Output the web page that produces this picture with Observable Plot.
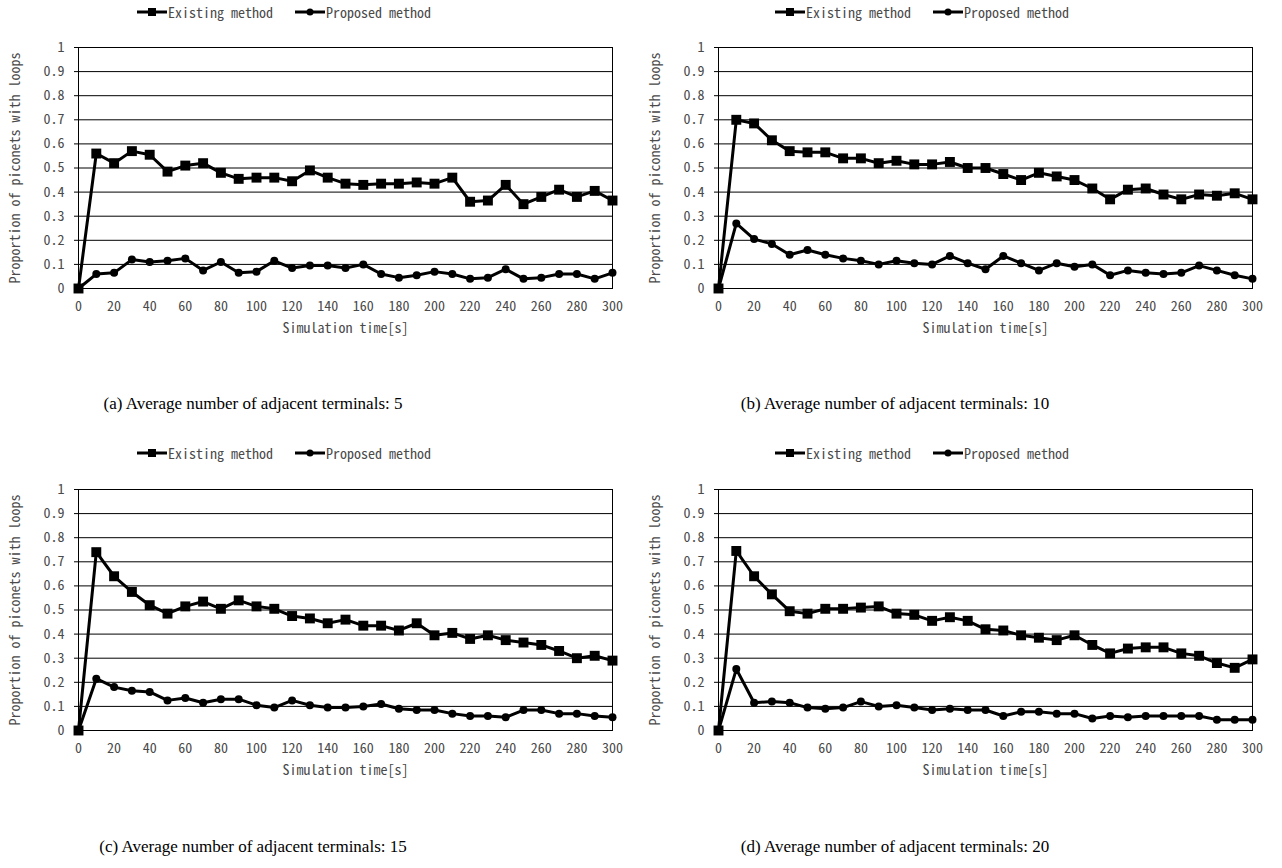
<!DOCTYPE html>
<html>
<head>
<meta charset="utf-8">
<script src="https://cdn.jsdelivr.net/npm/d3@7"></script>
<script src="https://cdn.jsdelivr.net/npm/@observablehq/plot@0.6"></script>
<style>
  body { margin: 0; background: #fff; }
  #root { position: relative; width: 1282px; height: 868px; overflow: hidden; background: #fff; }
  .panel { position: absolute; }
  .legend { position: absolute; display: flex; align-items: center; transform: translate(-50%, -50%);
            font: 14px "Noto Sans Mono CJK JP", "Noto Sans CJK JP", "Noto Sans", sans-serif; color: #4a4a4a; white-space: nowrap; }
  .legend .item { display: flex; align-items: center; margin: 0 11px; }
  .legend svg { display: block; margin-right: 1px; }
  .caption { position: absolute; transform: translate(-50%, -50%); white-space: nowrap;
             font: 17px "Liberation Serif", serif; color: #000; }
</style>
</head>
<body>
<div id="root"></div>
<script>
// ---- data ----
const times = [0, 10, 20, 30, 40, 50, 60, 70, 80, 90, 100, 110, 120, 130, 140, 150, 160, 170, 180, 190, 200, 210, 220, 230, 240, 250, 260, 270, 280, 290, 300];

const existingA = [0, 0.56, 0.52, 0.57, 0.555, 0.485, 0.51, 0.52, 0.48, 0.455, 0.46, 0.46, 0.445, 0.49, 0.46, 0.435, 0.43, 0.435, 0.435, 0.44, 0.435, 0.46, 0.36, 0.365, 0.43, 0.35, 0.38, 0.41, 0.38, 0.405, 0.365];
const proposedA = [0, 0.06, 0.065, 0.12, 0.11, 0.115, 0.125, 0.075, 0.11, 0.065, 0.07, 0.115, 0.085, 0.095, 0.095, 0.085, 0.1, 0.06, 0.045, 0.055, 0.07, 0.06, 0.04, 0.045, 0.08, 0.04, 0.045, 0.06, 0.06, 0.04, 0.065];

const existingB = [0, 0.70, 0.685, 0.615, 0.57, 0.565, 0.565, 0.54, 0.54, 0.52, 0.53, 0.515, 0.515, 0.525, 0.5, 0.5, 0.475, 0.45, 0.48, 0.465, 0.45, 0.415, 0.37, 0.41, 0.415, 0.39, 0.37, 0.39, 0.385, 0.395, 0.37];
const proposedB = [0, 0.27, 0.205, 0.185, 0.14, 0.16, 0.14, 0.125, 0.115, 0.1, 0.115, 0.105, 0.1, 0.135, 0.105, 0.08, 0.135, 0.105, 0.075, 0.105, 0.09, 0.1, 0.055, 0.075, 0.065, 0.06, 0.065, 0.095, 0.075, 0.055, 0.04];

const existingC = [0, 0.74, 0.64, 0.575, 0.52, 0.485, 0.515, 0.535, 0.505, 0.54, 0.515, 0.505, 0.475, 0.465, 0.445, 0.46, 0.435, 0.435, 0.415, 0.445, 0.395, 0.405, 0.38, 0.395, 0.375, 0.365, 0.355, 0.33, 0.3, 0.31, 0.29];
const proposedC = [0, 0.215, 0.18, 0.165, 0.16, 0.125, 0.135, 0.115, 0.13, 0.13, 0.105, 0.095, 0.125, 0.105, 0.095, 0.095, 0.1, 0.11, 0.09, 0.085, 0.085, 0.07, 0.06, 0.06, 0.055, 0.085, 0.085, 0.07, 0.07, 0.06, 0.055];

const existingD = [0, 0.745, 0.64, 0.565, 0.495, 0.485, 0.505, 0.505, 0.51, 0.515, 0.485, 0.48, 0.455, 0.47, 0.455, 0.42, 0.415, 0.395, 0.385, 0.375, 0.395, 0.355, 0.32, 0.34, 0.345, 0.345, 0.32, 0.31, 0.28, 0.26, 0.295];
const proposedD = [0, 0.255, 0.115, 0.12, 0.115, 0.095, 0.09, 0.095, 0.12, 0.1, 0.105, 0.095, 0.085, 0.09, 0.085, 0.085, 0.06, 0.078, 0.078, 0.07, 0.07, 0.05, 0.06, 0.055, 0.06, 0.06, 0.06, 0.06, 0.045, 0.045, 0.045];

const seriesNames = ["Existing method", "Proposed method"];
const captions = [
  "(a) Average number of adjacent terminals: 5",
  "(b) Average number of adjacent terminals: 10",
  "(c) Average number of adjacent terminals: 15",
  "(d) Average number of adjacent terminals: 20"
];
const yTicks = [0, 0.1, 0.2, 0.3, 0.4, 0.5, 0.6, 0.7, 0.8, 0.9, 1];
const xTicks = [0, 20, 40, 60, 80, 100, 120, 140, 160, 180, 200, 220, 240, 260, 280, 300];
const xLabel = "Simulation time[s]";
const yLabel = "Proportion of piconets with loops";

// ---- layout ----
const FONT = '"Noto Sans Mono CJK JP", "Noto Sans CJK JP", "Noto Sans", sans-serif';
const TEXT = "#4a4a4a";
const root = document.getElementById("root");
const panels = [
  {ex: existingA, pr: proposedA, left: 0,   top: 30,  legX: 284, legY: 12,  capX: 253, capY: 404},
  {ex: existingB, pr: proposedB, left: 640, top: 30,  legX: 922, legY: 12,  capX: 895, capY: 404},
  {ex: existingC, pr: proposedC, left: 0,   top: 472, legX: 284, legY: 453, capX: 253, capY: 847},
  {ex: existingD, pr: proposedD, left: 640, top: 472, legX: 922, legY: 453, capX: 895, capY: 847}
];

function makePlot(ex, pr) {
  const exData = times.map((t, i) => ({t, v: ex[i]}));
  const prData = times.map((t, i) => ({t, v: pr[i]}));
  return Plot.plot({
    width: 640, height: 330,
    marginLeft: 78, marginRight: 28, marginTop: 17, marginBottom: 72,
    x: {domain: [0, 300]},
    y: {domain: [0, 1]},
    style: {fontFamily: FONT, fontSize: "14px", color: TEXT, background: "white", overflow: "visible"},
    marks: [
      Plot.gridY(yTicks, {stroke: "black", strokeOpacity: 1, strokeWidth: 1}),
      Plot.axisY(yTicks, {tickSize: 4, tickPadding: 10, tickFormat: d3.format("~g"), label: null, stroke: "black", strokeOpacity: 1}),
      Plot.axisX(xTicks, {tickSize: 0, tickPadding: 13, label: null}),
      Plot.frame({stroke: "black", strokeWidth: 1}),
      Plot.line(exData, {x: "t", y: "v", stroke: "black", strokeWidth: 3}),
      Plot.dot(exData, {x: "t", y: "v", symbol: "square", r: 5.6, fill: "black", stroke: "none"}),
      Plot.line(prData, {x: "t", y: "v", stroke: "black", strokeWidth: 3}),
      Plot.dot(prData, {x: "t", y: "v", symbol: "circle", r: 4, fill: "black", stroke: "none"}),
      Plot.text([xLabel], {text: d => d, frameAnchor: "bottom", dy: 44, fill: TEXT, fontSize: 14}),
      Plot.text([yLabel], {text: d => d, frameAnchor: "left", textAnchor: "middle", dx: -63, rotate: -90, fill: TEXT, fontSize: 14})
    ]
  });
}

function swatch(symbol) {
  const ns = "http://www.w3.org/2000/svg";
  const s = document.createElementNS(ns, "svg");
  s.setAttribute("width", 30); s.setAttribute("height", 12);
  const l = document.createElementNS(ns, "line");
  l.setAttribute("x1", 0); l.setAttribute("x2", 30); l.setAttribute("y1", 6); l.setAttribute("y2", 6);
  l.setAttribute("stroke", "black"); l.setAttribute("stroke-width", 3);
  s.appendChild(l);
  if (symbol === "square") {
    const r = document.createElementNS(ns, "rect");
    r.setAttribute("x", 11); r.setAttribute("y", 2); r.setAttribute("width", 8); r.setAttribute("height", 8);
    s.appendChild(r);
  } else {
    const c = document.createElementNS(ns, "circle");
    c.setAttribute("cx", 15); c.setAttribute("cy", 6); c.setAttribute("r", 3.5);
    s.appendChild(c);
  }
  return s;
}

panels.forEach((p, k) => {
  const div = document.createElement("div");
  div.className = "panel";
  div.style.left = p.left + "px";
  div.style.top = p.top + "px";
  div.appendChild(makePlot(p.ex, p.pr));
  root.appendChild(div);

  const leg = document.createElement("div");
  leg.className = "legend";
  leg.style.left = p.legX + "px";
  leg.style.top = p.legY + "px";
  seriesNames.forEach((name, j) => {
    const it = document.createElement("div");
    it.className = "item";
    it.appendChild(swatch(j === 0 ? "square" : "circle"));
    const sp = document.createElement("span");
    sp.textContent = name;
    it.appendChild(sp);
    leg.appendChild(it);
  });
  root.appendChild(leg);

  const cap = document.createElement("div");
  cap.className = "caption";
  cap.style.left = p.capX + "px";
  cap.style.top = p.capY + "px";
  cap.textContent = captions[k];
  root.appendChild(cap);
});
</script>
</body>
</html>
